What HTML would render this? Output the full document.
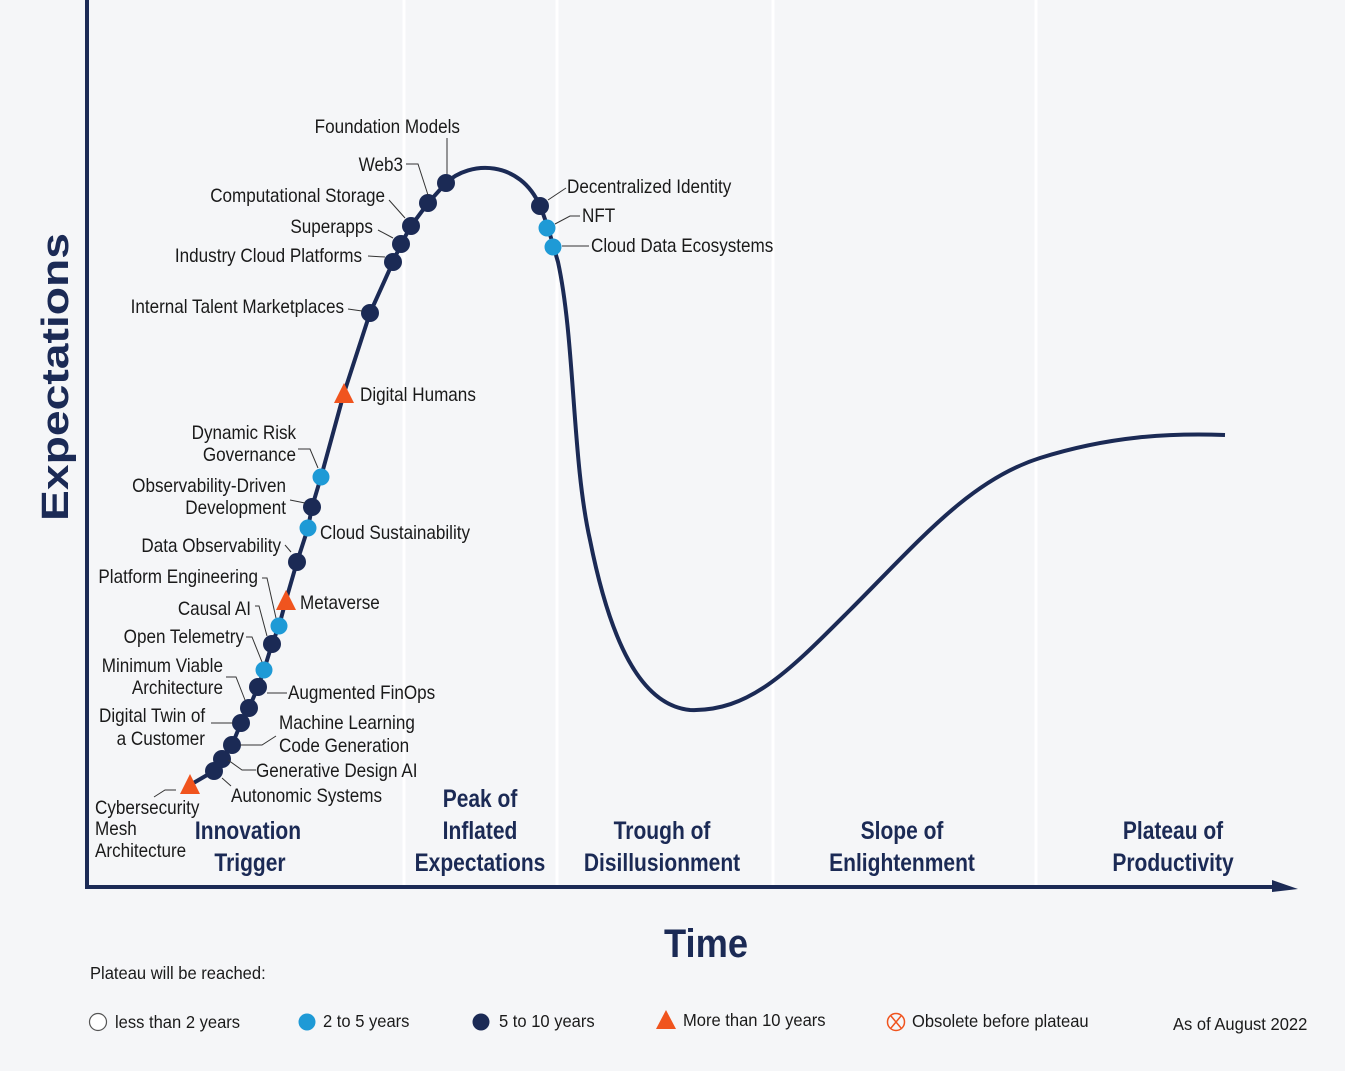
<!DOCTYPE html>
<html><head><meta charset="utf-8"><style>
html,body{margin:0;padding:0;background:#f5f6f8;}
svg{display:block;}
text{font-family:"Liberation Sans",sans-serif;fill:#1a1a1a;font-size:19px;}
text.e{text-anchor:end;transform-box:fill-box;transform-origin:100% 50%;transform:scaleX(.9);}
text.s{transform-box:fill-box;transform-origin:0% 50%;transform:scaleX(.9);}
text.l{font-size:18px;transform-box:fill-box;transform-origin:0% 50%;transform:scaleX(.92);}
.ph{font-weight:bold;fill:#1b2a55;font-size:25px;text-anchor:middle;transform-box:fill-box;transform-origin:50% 50%;transform:scaleX(.84);}
.ld{stroke:#333;stroke-width:1;fill:none;}
</style></head><body>
<svg width="1345" height="1071" viewBox="0 0 1345 1071">
<rect width="1345" height="1071" fill="#f5f6f8"/>
<g stroke="#ffffff" stroke-width="3">
<line x1="404" y1="0" x2="404" y2="885"/><line x1="557" y1="0" x2="557" y2="885"/>
<line x1="773" y1="0" x2="773" y2="885"/><line x1="1036" y1="0" x2="1036" y2="885"/>
</g>
<line x1="87" y1="0" x2="87" y2="889" stroke="#1b2a55" stroke-width="4"/>
<line x1="85" y1="887" x2="1280" y2="887" stroke="#1b2a55" stroke-width="4"/>
<polygon points="1272,880 1298,889 1272,892" fill="#1b2a55"/>
<g transform="translate(68,377) rotate(-90)">
<text x="0" y="0" text-anchor="middle" textLength="288" lengthAdjust="spacingAndGlyphs" style="font-weight:bold;font-size:38px;fill:#1b2a55">Expectations</text>
</g>
<text x="664" y="957" textLength="84" lengthAdjust="spacingAndGlyphs" style="font-weight:bold;font-size:40px;fill:#1b2a55">Time</text>
<path d="M190,785 L214,771 L222,759 L232,745 L241,723 L249,708 L258,687 L264,670 L272,644 L279,626 L286,600 L297,562 L308,528 L312,507 L321,477 L344,393 L370,313 L393,262 L401,244 L411,226 L428,203 L446,183 C470,160 520,160 540,206 C548,225 553,245 558,262 C575,340 572,460 590,540 C610,640 640,705 690,710 C750,712 790,670 850,610 C920,540 970,480 1040,458 C1110,436 1170,433 1225,435" fill="none" stroke="#1b2a55" stroke-width="4"/>
<g fill="#1b2a55">
<circle cx="214" cy="771" r="9"/><circle cx="222" cy="759" r="9"/><circle cx="232" cy="745" r="9"/><circle cx="241" cy="723" r="9"/><circle cx="249" cy="708" r="9"/><circle cx="258" cy="687" r="9"/><circle cx="272" cy="644" r="9"/><circle cx="297" cy="562" r="9"/><circle cx="312" cy="507" r="9"/><circle cx="370" cy="313" r="9"/><circle cx="393" cy="262" r="9"/><circle cx="401" cy="244" r="9"/><circle cx="411" cy="226" r="9"/><circle cx="428" cy="203" r="9"/><circle cx="446" cy="183" r="9"/><circle cx="540" cy="206" r="9"/>
</g>
<g fill="#1e9ad6">
<circle cx="264" cy="670" r="8.5"/><circle cx="279" cy="626" r="8.5"/><circle cx="308" cy="528" r="8.5"/><circle cx="321" cy="477" r="8.5"/><circle cx="547" cy="228" r="8.5"/><circle cx="553" cy="247" r="8.5"/>
</g>
<g fill="#f0541e">
<polygon points="190,774 180,794 200,794"/><polygon points="286,590 276,610 296,610"/><polygon points="344,383 334,403 354,403"/>
</g>
<g class="ld">
<polyline points="406,164 418,164 428,195"/><line x1="447" y1="138" x2="447" y2="174"/>
<polyline points="389,200 405,218"/><polyline points="378,230 393,238"/>
<polyline points="368,256 385,257"/><polyline points="348,309 362,311"/>
<polyline points="298,449 310,449 318,468"/><polyline points="290,500 305,503"/>
<polyline points="285,545 291,552"/><polyline points="262,578 267,578 276,618"/>
<polyline points="255,606 259,606 267,636"/><polyline points="246,637 252,637 262,662"/>
<polyline points="226,677 236,677 245,700"/><line x1="211" y1="723" x2="233" y2="723"/>
<polyline points="276,736 262,745 240,745"/><polyline points="256,770 242,770 228,760"/>
<polyline points="231,786 222,778"/><polyline points="154,797 165,790 176,790"/>
<line x1="267" y1="693" x2="287" y2="693"/>
<polyline points="566,188 548,200"/><polyline points="580,216 570,216 555,224"/>
<line x1="562" y1="246" x2="589" y2="246"/>
</g>
<text class="e" x="460" y="133">Foundation Models</text>
<text class="e" x="403" y="171">Web3</text>
<text class="e" x="385" y="202">Computational Storage</text>
<text class="e" x="373" y="233">Superapps</text>
<text class="e" x="362" y="262">Industry Cloud Platforms</text>
<text class="e" x="344" y="313">Internal Talent Marketplaces</text>
<text class="s" x="360" y="401">Digital Humans</text>
<text class="e" x="296" y="439">Dynamic Risk</text>
<text class="e" x="296" y="461">Governance</text>
<text class="e" x="286" y="492">Observability-Driven</text>
<text class="e" x="286" y="514">Development</text>
<text class="s" x="320" y="539">Cloud Sustainability</text>
<text class="e" x="281" y="552">Data Observability</text>
<text class="e" x="258" y="583">Platform Engineering</text>
<text class="s" x="300" y="609">Metaverse</text>
<text class="e" x="251" y="615">Causal AI</text>
<text class="e" x="244" y="643">Open Telemetry</text>
<text class="e" x="223" y="672">Minimum Viable</text>
<text class="e" x="223" y="694">Architecture</text>
<text class="s" x="288" y="699">Augmented FinOps</text>
<text class="e" x="205" y="722">Digital Twin of</text>
<text class="e" x="205" y="745">a Customer</text>
<text class="s" x="279" y="729">Machine Learning</text>
<text class="s" x="279" y="752">Code Generation</text>
<text class="s" x="256" y="777">Generative Design AI</text>
<text class="s" x="231" y="802">Autonomic Systems</text>
<text class="s" x="95" y="814">Cybersecurity</text>
<text class="s" x="95" y="835">Mesh</text>
<text class="s" x="95" y="857">Architecture</text>
<text class="s" x="567" y="193">Decentralized Identity</text>
<text class="s" x="582" y="222">NFT</text>
<text class="s" x="591" y="252">Cloud Data Ecosystems</text>
<text class="ph" x="248" y="839">Innovation</text><text class="ph" x="250" y="871">Trigger</text>
<text class="ph" x="480" y="807">Peak of</text><text class="ph" x="480" y="839">Inflated</text><text class="ph" x="480" y="871">Expectations</text>
<text class="ph" x="662" y="839">Trough of</text><text class="ph" x="662" y="871">Disillusionment</text>
<text class="ph" x="902" y="839">Slope of</text><text class="ph" x="902" y="871">Enlightenment</text>
<text class="ph" x="1173" y="839">Plateau of</text><text class="ph" x="1173" y="871">Productivity</text>
<text class="l" x="90" y="979">Plateau will be reached:</text>
<circle cx="98" cy="1022" r="8.5" fill="#fff" stroke="#555" stroke-width="1.2"/>
<text class="l" x="115" y="1028">less than 2 years</text>
<circle cx="307" cy="1022" r="8.5" fill="#1e9ad6"/>
<text class="l" x="323" y="1027">2 to 5 years</text>
<circle cx="481" cy="1022" r="8.5" fill="#1b2a55"/>
<text class="l" x="499" y="1027">5 to 10 years</text>
<polygon points="666,1010 656,1029 676,1029" fill="#f0541e"/>
<text class="l" x="683" y="1026">More than 10 years</text>
<circle cx="896" cy="1022" r="8.5" fill="none" stroke="#f0541e" stroke-width="1.5"/>
<line x1="891" y1="1016" x2="901" y2="1028" stroke="#f0541e" stroke-width="1.5"/>
<line x1="901" y1="1016" x2="891" y2="1028" stroke="#f0541e" stroke-width="1.5"/>
<text class="l" x="912" y="1027">Obsolete before plateau</text>
<text class="l" x="1173" y="1030">As of August 2022</text>
</svg>
</body></html>
